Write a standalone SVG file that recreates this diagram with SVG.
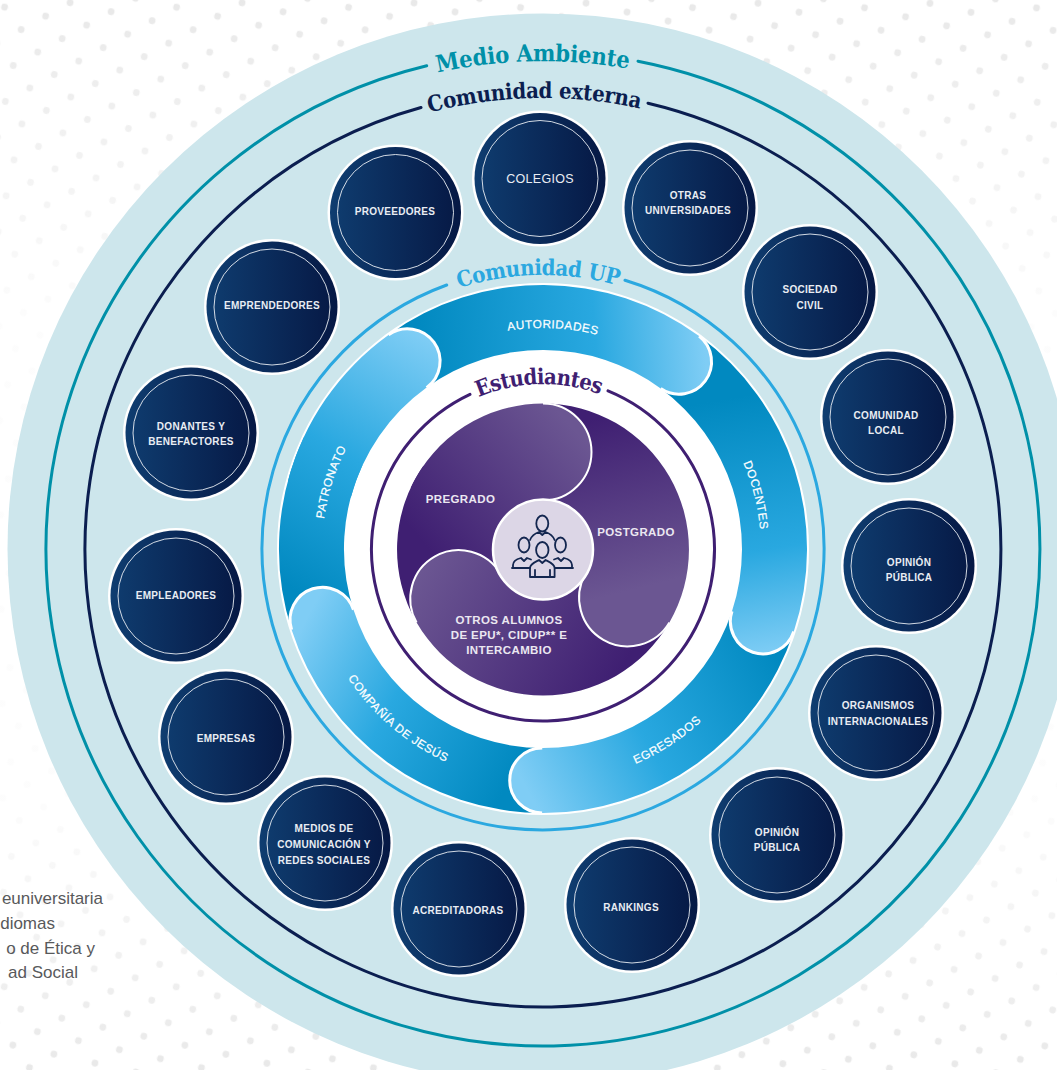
<svg xmlns="http://www.w3.org/2000/svg" width="1057" height="1070" viewBox="0 0 1057 1070">
<style>
.ring{fill:none;stroke-width:3;stroke-linecap:round}
.h{font-family:"DejaVu Serif Condensed","DejaVu Serif",serif;font-weight:700;text-anchor:middle}
.b{font-family:"Liberation Sans",Arial,sans-serif;font-size:11.8px;letter-spacing:.5px;fill:#fff;stroke:#fff;stroke-width:.2;text-anchor:middle}
.n{font-family:"Liberation Sans",Arial,sans-serif;font-size:10px;font-weight:700;letter-spacing:.3px;fill:#e9edf3;text-anchor:middle}
.p{font-family:"Liberation Sans",Arial,sans-serif;font-size:11.5px;font-weight:700;letter-spacing:.4px;fill:#ebe7f1;text-anchor:middle}
.g{font-family:"Liberation Sans",Arial,sans-serif;font-size:17px;fill:#58595b;text-anchor:end}
.cap{fill:none;stroke:#fff;stroke-width:3}
.cap2{fill:none;stroke:#fff;stroke-width:2}
.ic{fill:none;stroke:#13264f;stroke-width:1.8;stroke-linecap:round;stroke-linejoin:round}
</style>
<defs>
<pattern id="dots" width="42" height="36.8" patternUnits="userSpaceOnUse" patternTransform="rotate(12.4)">
<circle cx="6" cy="6" r="3.4" fill="#e6e6e6"/><circle cx="27" cy="24.4" r="3.4" fill="#e6e6e6"/>
</pattern>
<linearGradient id="fade" x1="0" y1="0" x2="0" y2="1">
<stop offset="0" stop-color="#fff" stop-opacity=".1"/><stop offset=".3" stop-color="#fff" stop-opacity=".9"/><stop offset=".75" stop-color="#fff" stop-opacity=".9"/><stop offset="1" stop-color="#fff" stop-opacity=".1"/>
</linearGradient>
<linearGradient id="nd" x1="0" y1="0" x2="1" y2="0"><stop offset="0" stop-color="#0f3d70"/><stop offset="1" stop-color="#061844"/></linearGradient>
<linearGradient id="gP" gradientUnits="userSpaceOnUse" x1="440" y1="345" x2="295" y2="590"><stop offset="0" stop-color="#7fcdf5"/><stop offset=".5" stop-color="#29a8e0"/><stop offset="1" stop-color="#0189c0"/></linearGradient>
<linearGradient id="gA" gradientUnits="userSpaceOnUse" x1="420" y1="370" x2="705" y2="350"><stop offset="0" stop-color="#0189c0"/><stop offset=".62" stop-color="#29a8e0"/><stop offset="1" stop-color="#7fcdf5"/></linearGradient>
<linearGradient id="gD" gradientUnits="userSpaceOnUse" x1="720" y1="400" x2="765" y2="655"><stop offset="0" stop-color="#0189c0"/><stop offset=".6" stop-color="#29a8e0"/><stop offset="1" stop-color="#7fcdf5"/></linearGradient>
<linearGradient id="gE" gradientUnits="userSpaceOnUse" x1="780" y1="660" x2="530" y2="795"><stop offset="0" stop-color="#0189c0"/><stop offset=".55" stop-color="#29a8e0"/><stop offset="1" stop-color="#7fcdf5"/></linearGradient>
<linearGradient id="gC" gradientUnits="userSpaceOnUse" x1="295" y1="640" x2="520" y2="760"><stop offset="0" stop-color="#7fcdf5"/><stop offset=".45" stop-color="#29a8e0"/><stop offset="1" stop-color="#0189c0"/></linearGradient>
<linearGradient id="gS1" gradientUnits="userSpaceOnUse" x1="430" y1="550" x2="570" y2="425"><stop offset="0" stop-color="#3f1f72"/><stop offset="1" stop-color="#6b5692"/></linearGradient>
<linearGradient id="gS2" gradientUnits="userSpaceOnUse" x1="590" y1="420" x2="640" y2="620"><stop offset="0" stop-color="#3f1f72"/><stop offset=".85" stop-color="#6b5692"/></linearGradient>
<linearGradient id="gS3" gradientUnits="userSpaceOnUse" x1="425" y1="565" x2="615" y2="680"><stop offset="0" stop-color="#6b5692"/><stop offset="1" stop-color="#3f1f72"/></linearGradient>
<g id="disc"><circle r="68" fill="#fff"/><circle r="65.5" fill="url(#nd)"/><circle r="58" fill="none" stroke="#e9edf3" stroke-width=".9"/></g>
<path id="r488" d="M55,549A488,488 0 0 1 1031,549"/>
<path id="r451" d="M92,549A451,451 0 0 1 994,549"/>
<path id="r274" d="M269,549A274,274 0 0 1 817,549"/>
<path id="r165" d="M378,549A165,165 0 0 1 708,549"/>
<path id="r218" d="M325,549A218,218 0 0 1 761,549"/>
<path id="r221" d="M322,549A221,221 0 0 1 764,549"/>
<path id="r234" d="M309,549A234,234 0 0 0 777,549"/>
</defs>
<g id="background">
<rect width="1057" height="1070" fill="#fff"/>
<rect width="1057" height="1070" fill="url(#dots)"/>
<rect width="1057" height="1070" fill="url(#fade)"/>
<circle cx="543" cy="549" r="535.5" fill="#cde6ec"/>
<text class="g" x="103" y="904">euniversitaria</text>
<text class="g" x="55" y="929">diomas</text>
<text class="g" x="95" y="954">o de Ética y</text>
<text class="g" x="78" y="978">ad Social</text>
</g>
<g id="connectors">
<path class="ring" stroke="#0090a8" d="M638,61.2A497,497 0 1 1 426.7,65.8"/>
<path class="ring" stroke="#0b1e50" d="M648,103.2A458,458 0 1 1 421,107.5"/>
<path class="ring" stroke="#2ba8e0" d="M625,280.2A281,281 0 1 1 446.7,285"/>
</g>
<g id="titles">
<text class="h" font-size="23.5" letter-spacing="-.2" fill="#0090a8" transform="rotate(-1.2 543 549)"><textPath href="#r488" startOffset="50%">Medio Ambiente</textPath></text>
<text class="h" font-size="22" letter-spacing="-.3" fill="#0b1e50" transform="rotate(-1.1 543 549)"><textPath href="#r451" startOffset="50%">Comunidad externa</textPath></text>
<text class="h" font-size="22" letter-spacing="-.4" fill="#2ba8e0" transform="rotate(-1 543 549)"><textPath href="#r274" startOffset="50%">Comunidad UP</textPath></text>
</g>
<g id="comunidad-up">
<circle cx="543" cy="549" r="266" fill="#fff"/>
<path fill="url(#gP)" d="M291.6,629.7A264,264 0 0 1 303.7,437.4L362.6,464.9A199,199 0 0 0 353.5,609.8Z"/>
<path fill="url(#gC)" d="M542.1,813A264,264 0 0 1 291.6,629.7A32.5,32.5 0 0 1 353.5,609.8A199,199 0 0 0 542.3,748Z"/>
<path class="cap" d="M291.6,629.7A32.5,32.5 0 0 1 353.5,609.8"/>
<path fill="url(#gE)" d="M793.8,631.5A264,264 0 0 1 542.1,813A32.5,32.5 0 0 1 542.3,748A199,199 0 0 0 732,611.2Z"/>
<path class="cap" d="M542.1,813A32.5,32.5 0 0 1 542.3,748"/>
<path fill="url(#gD)" d="M699.1,336.1A264,264 0 0 1 793.8,631.5A32.5,32.5 0 0 1 732,611.2A199,199 0 0 0 660.7,388.5Z"/>
<path class="cap" d="M793.8,631.5A32.5,32.5 0 0 1 732,611.2"/>
<path fill="url(#gA)" d="M388.5,334.9A264,264 0 0 1 699.1,336.1A32.5,32.5 0 0 1 660.7,388.5A199,199 0 0 0 426.6,387.6Z"/>
<path class="cap" d="M699.1,336.1A32.5,32.5 0 0 1 660.7,388.5"/>
<path fill="url(#gP)" d="M288,480.7A264,264 0 0 1 388.5,334.9A32.5,32.5 0 0 1 426.6,387.6A199,199 0 0 0 350.8,497.5Z"/>
<path class="cap" d="M388.5,334.9A32.5,32.5 0 0 1 426.6,387.6"/>
<text class="b" transform="rotate(2.6 543 549)"><textPath href="#r221" startOffset="50%">AUTORIDADES</textPath></text>
<text class="b" transform="rotate(75.8 543 549)"><textPath href="#r218" startOffset="50%">DOCENTES</textPath></text>
<text class="b" transform="rotate(-72.5 543 549)"><textPath href="#r221" startOffset="50%">PATRONATO</textPath></text>
<text class="b" transform="rotate(-33 543 549)"><textPath href="#r234" startOffset="50%">EGRESADOS</textPath></text>
<text class="b" transform="rotate(40.5 543 549)"><textPath href="#r234" startOffset="50%">COMPAÑÍA DE JESÚS</textPath></text>
</g>
<g id="estudiantes">
<path class="ring" stroke="#3f1f72" d="M608,390.8A171.5,171.5 0 1 1 470,394.3"/>
<text class="h" font-size="22" letter-spacing="-.7" fill="#3f1f72" transform="rotate(-1.5 543 549)"><textPath href="#r165" startOffset="50%">Estudiantes</textPath></text>
<path fill="url(#gS1)" d="M416.6,622.5A146,146 0 0 1 423.4,465.8L502.9,521.4A49,49 0 0 0 500.6,574Z"/>
<path fill="url(#gS3)" d="M669.4,622.5A146,146 0 0 1 416.6,622.5A48.5,48.5 0 0 1 500.6,574A49,49 0 0 0 585.4,574Z"/>
<path class="cap2" d="M416.6,622.5A48.5,48.5 0 0 1 500.6,574"/>
<path fill="url(#gS2)" d="M543,403.5A146,146 0 0 1 669.4,622.5A48.5,48.5 0 0 1 585.4,574A49,49 0 0 0 543,500.5Z"/>
<path class="cap2" d="M669.4,622.5A48.5,48.5 0 0 1 585.4,574"/>
<path fill="url(#gS1)" d="M410.7,487.8A146,146 0 0 1 543,403.5A48.5,48.5 0 0 1 543,500.5A49,49 0 0 0 498.6,528.8Z"/>
<path class="cap2" d="M543,403.5A48.5,48.5 0 0 1 543,500.5"/>
<text class="p" x="460.5" y="503">PREGRADO</text>
<text class="p" x="636" y="536">POSTGRADO</text>
<text class="p" x="509" y="624">OTROS ALUMNOS</text>
<text class="p" x="509" y="639">DE EPU*, CIDUP** E</text>
<text class="p" x="509" y="654">INTERCAMBIO</text>
</g>
<g id="centro">
<circle cx="543" cy="549.5" r="50" fill="#dcd6e6" stroke="#fff" stroke-width="2.5"/>
<g class="ic">
<ellipse cx="542.3" cy="523.5" rx="6" ry="8"/>
<path d="M530,540c2-5 6-7 9-8l3.300,3 3.300-3c3,1 7,3 9,8"/>
<ellipse cx="524" cy="545" rx="5.500" ry="7.500"/>
<ellipse cx="560.500" cy="545" rx="5.500" ry="7.500"/>
<path d="M513,568v-3c0-4 4-6 8-7l3,3 3-3 4,1.500M512,568h18M572,568v-3c0-4-4-6-8-7l-3,3-3-3-4,1.500M555,568h18"/>
<ellipse cx="542.300" cy="550" rx="6.200" ry="8"/>
<path d="M530,577v-9c0-4 5-6 9-8l3.300,3 3.300-3c4,2 9,4 9,8v9zM535,570v7M550,570v7"/>
</g>
</g>
<g id="n-colegios"><use href="#disc" x="540" y="178.500"/><text class="n" style="font-size:12.500px;font-weight:400" x="540" y="183">COLEGIOS</text></g>
<g id="n-proveedores"><use href="#disc" x="395.500" y="212.500"/><text class="n" x="395" y="215">PROVEEDORES</text></g>
<g id="n-otras"><use href="#disc" x="690" y="208"/><text class="n" x="688" y="199">OTRAS</text><text class="n" x="688" y="214">UNIVERSIDADES</text></g>
<g id="n-sociedad"><use href="#disc" x="810" y="292"/><text class="n" x="810" y="293">SOCIEDAD</text><text class="n" x="810" y="309">CIVIL</text></g>
<g id="n-comunidad"><use href="#disc" x="888" y="417"/><text class="n" x="886" y="419">COMUNIDAD</text><text class="n" x="886" y="434">LOCAL</text></g>
<g id="n-opinion1"><use href="#disc" x="909" y="566"/><text class="n" x="909" y="566">OPINIÓN</text><text class="n" x="909" y="581">PÚBLICA</text></g>
<g id="n-organismos"><use href="#disc" x="876" y="713"/><text class="n" x="878" y="709">ORGANISMOS</text><text class="n" x="878" y="725">INTERNACIONALES</text></g>
<g id="n-opinion2"><use href="#disc" x="777" y="835"/><text class="n" x="777" y="836">OPINIÓN</text><text class="n" x="777" y="851">PÚBLICA</text></g>
<g id="n-rankings"><use href="#disc" x="632" y="905"/><text class="n" x="631" y="911">RANKINGS</text></g>
<g id="n-acreditadoras"><use href="#disc" x="459" y="909"/><text class="n" x="458" y="914">ACREDITADORAS</text></g>
<g id="n-medios"><use href="#disc" x="325" y="843"/><text class="n" x="324" y="832">MEDIOS DE</text><text class="n" x="324" y="848">COMUNICACIÓN Y</text><text class="n" x="324" y="864">REDES SOCIALES</text></g>
<g id="n-empresas"><use href="#disc" x="226" y="737"/><text class="n" x="226" y="742">EMPRESAS</text></g>
<g id="n-empleadores"><use href="#disc" x="176" y="596"/><text class="n" x="176" y="599">EMPLEADORES</text></g>
<g id="n-donantes"><use href="#disc" x="191" y="433"/><text class="n" x="191" y="430">DONANTES Y</text><text class="n" x="191" y="445">BENEFACTORES</text></g>
<g id="n-emprendedores"><use href="#disc" x="272" y="307"/><text class="n" x="272" y="309">EMPRENDEDORES</text></g>
</svg>
